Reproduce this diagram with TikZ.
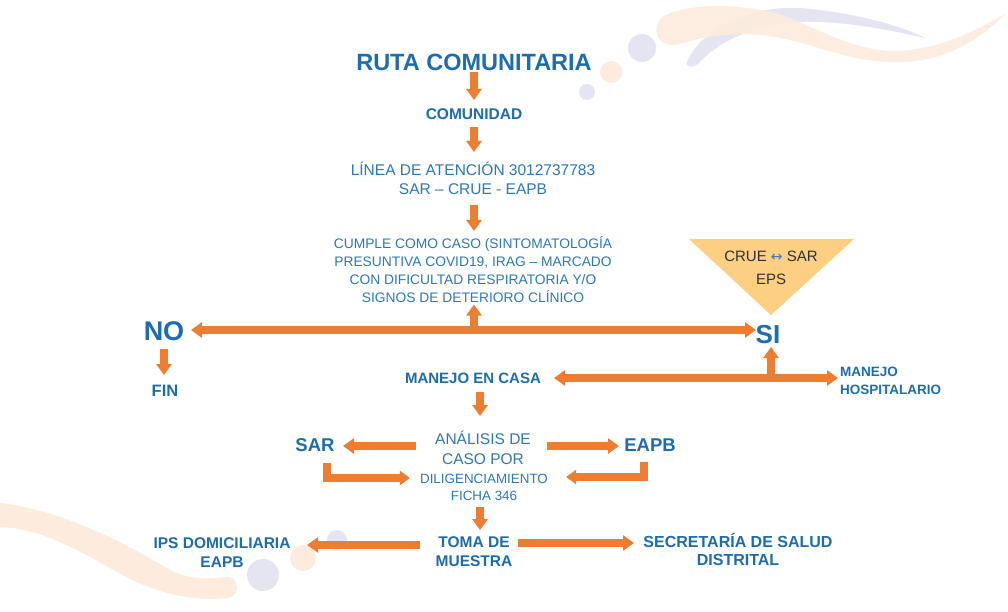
\documentclass[tikz,border=0pt]{standalone}
\usepackage{fontspec}
\setmainfont{Liberation Sans}
\newfontfamily\symfont{DejaVu Sans}
\usetikzlibrary{arrows.meta}
\definecolor{orng}{RGB}{237,125,49}
\definecolor{tblue}{RGB}{30,108,176}
\definecolor{lblue}{RGB}{46,120,186}
\definecolor{lav}{RGB}{229,229,241}
\definecolor{peach}{RGB}{253,236,222}
\definecolor{trifill}{RGB}{252,207,130}
\definecolor{dgray}{RGB}{50,50,50}
\definecolor{arrblue}{RGB}{68,114,196}
\begin{document}
\begin{tikzpicture}[x=1pt,y=-1pt,
  txt/.style={text=tblue, inner sep=0pt, align=center},
  ltxt/.style={text=lblue, inner sep=0pt, align=center},
  barrow/.style={draw=orng, line width=7.5pt, -{Triangle[width=15pt,length=11pt]}},
  dbarrow/.style={draw=orng, line width=7.5pt, {Triangle[width=15pt,length=11pt]}-{Triangle[width=15pt,length=11pt]}},
  elbow/.style={barrow, line join=miter, -{Triangle[width=14pt,length=10pt]}}
]
\useasboundingbox (0,0) rectangle (1008,612);
\fill[white] (0,0) rectangle (1008,612);

% background decorations (top right)
\fill[lav] (687,62) .. controls (700,30) and (750,5) .. (800,8)
  .. controls (850,12) and (900,25) .. (925,38)
  .. controls (890,30) and (840,20) .. (795,22)
  .. controls (750,25) and (715,45) .. (700,62)
  .. controls (695,68) and (685,68) .. (687,62) -- cycle;
\fill[peach, opacity=0.9] (664,16) .. controls (690,2) and (750,3) .. (790,18)
  .. controls (840,40) and (870,55) .. (910,50)
  .. controls (950,45) and (980,28) .. (1005,14)
  .. controls (985,35) and (950,60) .. (905,62)
  .. controls (860,64) and (830,50) .. (790,40)
  .. controls (750,30) and (710,34) .. (680,44)
  .. controls (655,50) and (650,25) .. (664,16) -- cycle;
\fill[lav] (642,48) circle (14);
\fill[peach] (611,72) circle (11);
\fill[lav] (587,92) circle (8);

% background decorations (bottom left)
\fill[peach] (0,503) .. controls (60,510) and (120,540) .. (170,570)
  .. controls (195,582) and (215,578) .. (228,577)
  .. controls (240,578) and (240,596) .. (228,598)
  .. controls (190,602) and (150,592) .. (110,568)
  .. controls (70,545) and (35,528) .. (0,527) -- cycle;
\fill[lav] (263,575) circle (16);
\fill[peach] (303,558) circle (13);
\fill[lav] (337,540) circle (10);

% triangle
\fill[trifill] (689,239) -- (854,239) -- (771,315) -- cycle;
\node[inner sep=0pt, align=center, text=dgray, font=\fontsize{15}{23}\selectfont] (crue) at (771,268)
  {CRUE {\symfont\fontsize{14}{14}\selectfont\color{arrblue}↔} SAR\\EPS};

% text nodes
\node[txt, font=\bfseries\fontsize{23.5}{28}\selectfont] (ruta) at (474,62) {RUTA COMUNITARIA};
\node[txt, font=\bfseries\fontsize{15.5}{19}\selectfont] (comunidad) at (474,114) {COMUNIDAD};
\node[ltxt, font=\fontsize{15.5}{19}\selectfont] (linea) at (473,178.5) {LÍNEA DE ATENCIÓN 3012737783\\SAR – CRUE - EAPB};
\node[ltxt, font=\fontsize{13.8}{17.8}\selectfont] (cumple) at (473,269.5) {CUMPLE COMO CASO (SINTOMATOLOGÍA\\PRESUNTIVA COVID19, IRAG – MARCADO\\CON DIFICULTAD RESPIRATORIA Y/O\\SIGNOS DE DETERIORO CLÍNICO};
\node[txt, font=\bfseries\fontsize{27}{30}\selectfont] (no) at (164,331) {NO};
\node[txt, font=\bfseries\fontsize{26}{30}\selectfont] (si) at (768,335) {SI};
\node[txt, font=\bfseries\fontsize{16.5}{19}\selectfont] (fin) at (165,391) {FIN};
\node[txt, font=\bfseries\fontsize{15}{18}\selectfont] (casa) at (473,378) {MANEJO EN CASA};
\node[txt, align=left, anchor=west, font=\bfseries\fontsize{13.5}{18}\selectfont] (hosp) at (840,381) {MANEJO\\HOSPITALARIO};
\node[ltxt, font=\fontsize{15.5}{20}\selectfont] (analisis) at (483,448) {ANÁLISIS DE\\CASO POR};
\node[txt, font=\bfseries\fontsize{18.5}{22}\selectfont] (sar) at (315,445) {SAR};
\node[txt, font=\bfseries\fontsize{18.5}{22}\selectfont] (eapb) at (650,445) {EAPB};
\node[ltxt, font=\fontsize{13.4}{17}\selectfont] (dilig) at (484,487.5) {DILIGENCIAMIENTO\\FICHA 346};
\node[txt, font=\bfseries\fontsize{15.5}{19}\selectfont] (toma) at (474,551.5) {TOMA DE\\MUESTRA};
\node[txt, font=\bfseries\fontsize{15.5}{19}\selectfont] (ips) at (222,552.5) {IPS DOMICILIARIA\\EAPB};
\node[txt, font=\bfseries\fontsize{16}{18}\selectfont] (secr) at (738,549) {SECRETARÍA DE SALUD\\DISTRITAL};

% connectors
\draw[barrow] ([yshift=-10pt]ruta.center) -- ([yshift=14pt]comunidad.center);
\draw[barrow] ([yshift=-13pt]comunidad.center) -- ([xshift=1pt,yshift=26.5pt]linea.center);
\draw[barrow] ([xshift=1pt,yshift=-26.5pt]linea.center) -- ([xshift=1pt,yshift=38.5pt]cumple.center);
\draw[dbarrow] ([xshift=27pt,yshift=1pt]no.center) -- ([xshift=-12pt,yshift=5pt]si.center);
\draw[barrow] ([xshift=310pt,yshift=1pt]no.center) -- ([xshift=1pt,yshift=-35pt]cumple.center);
\draw[barrow] ([yshift=-18pt]no.center) -- ([xshift=-1pt,yshift=16pt]fin.center);
\draw[dbarrow] ([xshift=81pt]casa.center) -- ([xshift=-2pt,yshift=3pt]hosp.west);
\draw[barrow] ([xshift=298pt]casa.center) -- ([xshift=3pt,yshift=-12pt]si.center);
\draw[barrow] ([xshift=7pt,yshift=-14pt]casa.center) -- ([xshift=-3pt,yshift=32pt]analisis.center);
\draw[barrow] ([xshift=-67pt,yshift=2pt]analisis.center) -- ([xshift=28pt,yshift=-1pt]sar.center);
\draw[barrow] ([xshift=64pt,yshift=2pt]analisis.center) -- ([xshift=-31pt,yshift=-1pt]eapb.center);
\draw[elbow] ([xshift=12pt,yshift=-18pt]sar.center) |- ([xshift=-10pt,yshift=9.5pt]dilig.west);
\draw[elbow] ([xshift=-6pt,yshift=-17pt]eapb.center) |- ([xshift=18pt,yshift=10.5pt]dilig.east);
\draw[barrow] ([xshift=-4pt,yshift=-19.5pt]dilig.center) -- ([xshift=6pt,yshift=21.5pt]toma.center);
\draw[barrow] ([xshift=-54pt,yshift=6.5pt]toma.center) -- ([xshift=85pt,yshift=7.5pt]ips.center);
\draw[barrow] ([xshift=44pt,yshift=8.5pt]toma.center) -- ([xshift=-104pt,yshift=6pt]secr.center);
\end{tikzpicture}
\end{document}
